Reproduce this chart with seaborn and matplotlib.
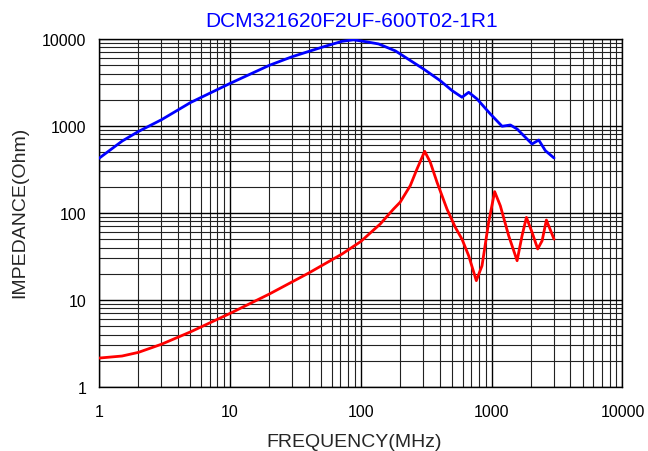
import pandas as pd
import numpy as np
import matplotlib
matplotlib.use('Agg')
import matplotlib.pyplot as plt
import seaborn as sns
from matplotlib.ticker import LogLocator, FixedLocator, FixedFormatter, NullFormatter

# impedance curve (blue)
z_freq = [1, 1.5, 2, 3, 5, 10, 20, 30, 50, 72, 88, 110, 137, 184, 302, 405, 500,
          594, 668, 774, 979, 1203, 1391, 1566, 2037, 2291, 2577, 3000]
z_ohm = [425, 670, 865, 1180, 1860, 3080, 4980, 6270, 8000, 9410, 9780, 9300, 8770,
         7300, 4520, 3320, 2545, 2140, 2440, 2045, 1373, 993, 1027, 924, 621,
         690, 520, 429]

# second curve (red)
r_freq = [1, 1.5, 2, 3, 5, 10, 20, 40, 72, 100, 141, 178, 200, 239, 269, 308, 340,
          383, 456, 528, 594, 668, 764, 845, 949, 1055, 1166, 1350, 1566, 1709,
          1845, 2037, 2250, 2432, 2622, 3000]
r_ohm = [2.15, 2.27, 2.5, 3.1, 4.3, 7.0, 11.7, 20.4, 33.8, 47, 74.8, 111, 133, 206,
         320, 512, 383, 225, 111, 68.5, 50, 32.3, 16.7, 24.8, 78, 176, 121,
         54.9, 28.3, 54.9, 89, 60, 38.6, 48, 83, 50]

x_ticks = [1, 10, 100, 1000, 10000]
x_labels = ['1', '10', '100', '1000', '10000']
y_ticks = [1, 10, 100, 1000, 10000]
y_labels = ['1', '10', '100', '1000', '10000']

title = 'DCM321620F2UF-600T02-1R1'

sns.set_style('white')
plt.rcParams['font.family'] = ['Liberation Sans', 'DejaVu Sans']

fig = plt.figure(figsize=(6.48, 4.52), dpi=100)
ax = fig.add_axes([0.1528, 0.1416, 0.8078, 0.7699])

zdf = pd.DataFrame({'freq': z_freq, 'ohm': z_ohm})
rdf = pd.DataFrame({'freq': r_freq, 'ohm': r_ohm})
sns.lineplot(x='freq', y='ohm', data=zdf, color='#0000ff', linewidth=2.0, ax=ax, zorder=3)
sns.lineplot(x='freq', y='ohm', data=rdf, color='#ff0000', linewidth=2.0, ax=ax, zorder=3)

ax.set_xscale('log')
ax.set_yscale('log')
ax.set_xlim(1, 10000)
ax.set_ylim(1, 10000)

ax.xaxis.set_major_locator(FixedLocator(x_ticks))
ax.xaxis.set_major_formatter(FixedFormatter(x_labels))
ax.yaxis.set_major_locator(FixedLocator(y_ticks))
ax.yaxis.set_major_formatter(FixedFormatter(y_labels))
ax.xaxis.set_minor_locator(LogLocator(base=10, subs=np.arange(2, 10), numticks=20))
ax.yaxis.set_minor_locator(LogLocator(base=10, subs=np.arange(2, 10), numticks=20))
ax.xaxis.set_minor_formatter(NullFormatter())
ax.yaxis.set_minor_formatter(NullFormatter())

ax.grid(which='major', color='black', linewidth=1.0)
ax.grid(which='minor', color='#222222', linewidth=0.8)
ax.set_axisbelow(True)
ax.tick_params(which='both', length=0, labelsize=11.5, colors='black')
ax.tick_params(axis='x', pad=12)
ax.tick_params(axis='y', pad=9)

for s in ax.spines.values():
    s.set_color('black')
    s.set_linewidth(1.0)

ax.set_xlabel('')
ax.set_ylabel('')
fig.text(0.546, 0.012, 'FREQUENCY(MHz)', fontsize=14, ha='center', va='baseline')
fig.text(0.030, 0.531, 'IMPEDANCE(Ohm)', fontsize=14, ha='center', va='center', rotation=90)
fig.text(0.5424, 0.940, title, color='#0000ff', fontsize=15, ha='center', va='baseline')

fig.savefig('out.png', dpi=100)
